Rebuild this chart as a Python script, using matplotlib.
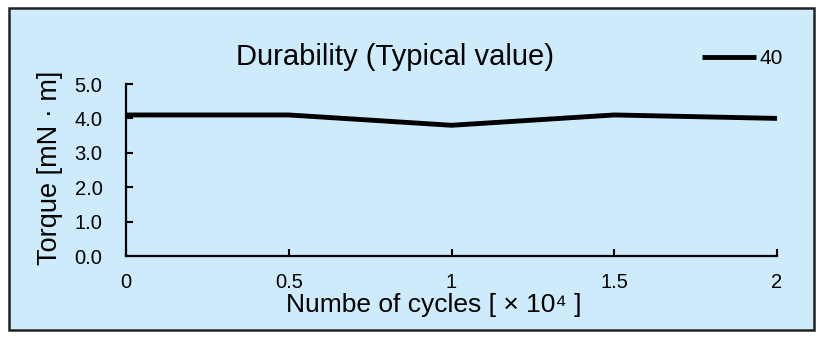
import matplotlib
matplotlib.use("Agg")
import matplotlib.pyplot as plt
from matplotlib.patches import Rectangle

plt.rcParams['font.family'] = ['Liberation Sans', 'DejaVu Sans']

cycles = [0, 0.5, 1, 1.5, 2]
torque_40 = [4.1, 4.1, 3.8, 4.1, 4.0]
xticks = [0, 0.5, 1, 1.5, 2]
xtick_labels = ['0', '0.5', '1', '1.5', '2']
yticks = [0.0, 1.0, 2.0, 3.0, 4.0, 5.0]
series_name = '40'

W, H = 825, 341
fig = plt.figure(figsize=(W / 100, H / 100), dpi=100)
fig.patch.set_facecolor('white')

# light blue panel with dark border
bg = Rectangle((9 / W, 1 - 330 / H), (814 - 9) / W, (330 - 8) / H,
               transform=fig.transFigure, facecolor='#CDEBFB',
               edgecolor='#222222', linewidth=1.8, zorder=-10)
fig.patches.append(bg)

ax = fig.add_axes([126 / W, 1 - 256 / H, (777 - 126) / W, (256 - 84) / H])
ax.set_zorder(5)
ax.set_facecolor('none')
ax.plot(cycles, torque_40, color='black', linewidth=3.5, label=series_name,
        solid_capstyle='butt', solid_joinstyle='round', clip_on=False)
ax.set_xlim(0, 2)
ax.set_ylim(0, 5)
ax.set_xticks(xticks)
ax.set_xticklabels(xtick_labels)
ax.set_yticks(yticks)
ax.set_yticklabels([f'{v:.1f}' for v in yticks])
for s in ['top', 'right']:
    ax.spines[s].set_visible(False)
for s in ['left', 'bottom']:
    ax.spines[s].set_linewidth(1.6)
    ax.spines[s].set_color('black')
ax.tick_params(axis='x', direction='in', length=5, width=1.5, pad=12, labelsize=14.5)
ax.tick_params(axis='y', direction='in', length=5, width=1.5, pad=17, labelsize=14.5)

fig.text(395 / W, 1 - 57 / H, 'Durability (Typical value)', ha='center', va='center',
         fontsize=21)
fig.text(434 / W, 1 - 305 / H, 'Numbe of cycles [ × 10⁴ ]', ha='center', va='center',
         fontsize=19)
fig.text(50 / W, 1 - 168 / H, 'Torque [mN · m]', ha='center', va='center',
         rotation=90, fontsize=19.5)

leg = ax.legend(loc='center left', bbox_to_anchor=(702 / W, 1 - 59 / H),
                bbox_transform=fig.transFigure, frameon=False, fontsize=15,
                handlelength=2.6, handletextpad=0.15, borderpad=0, borderaxespad=0)

fig.savefig('out.png', dpi=100)
